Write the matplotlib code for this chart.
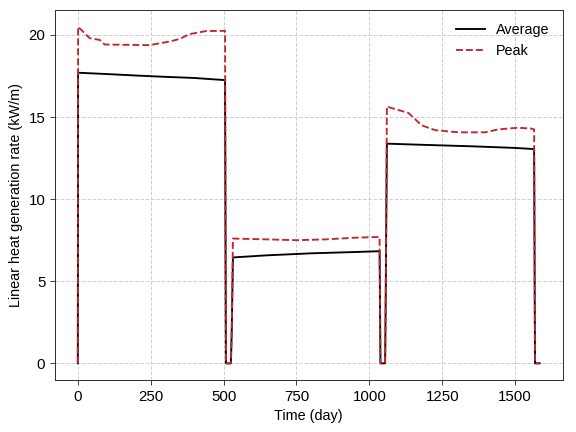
import matplotlib
matplotlib.use("Agg")
import matplotlib.pyplot as plt

plt.rcParams['font.family'] = ['Liberation Sans', 'DejaVu Sans']

# Average linear heat generation rate (kW/m) vs time (day)
avg_days = [0, 1, 100, 200, 300, 400, 505, 508, 525, 528, 532, 650, 800, 950, 1035,
            1038, 1054, 1056, 1060, 1200, 1350, 1500, 1565, 1568, 1584]
avg_vals = [0, 17.7, 17.62, 17.53, 17.45, 17.38, 17.25, 0, 0, 2.0, 6.45, 6.58, 6.7, 6.78, 6.83,
            0, 0, 4.0, 13.38, 13.3, 13.22, 13.12, 13.05, 0, 0]

# Peak linear heat generation rate (kW/m)
peak_days = [0, 1, 41, 75, 92, 167, 246, 314, 348, 383, 440, 505, 508, 525, 528, 532,
             650, 750, 850, 950, 1035, 1038, 1054, 1056, 1060, 1076, 1134, 1179, 1226,
             1305, 1397, 1442, 1510, 1555, 1565, 1568, 1584]
peak_vals = [0, 20.5, 19.8, 19.7, 19.42, 19.4, 19.38, 19.6, 19.75, 20.05, 20.24, 20.25, 0, 0, 2.0, 7.6,
             7.55, 7.5, 7.55, 7.65, 7.7, 0, 0, 4.0, 15.65, 15.55, 15.25, 14.5, 14.2,
             14.07, 14.07, 14.25, 14.35, 14.3, 14.25, 0, 0]

fig, ax = plt.subplots(figsize=(6.4, 4.8), dpi=90)
ax.plot(avg_days, avg_vals, color='black', linewidth=1.5, label='Average')
ax.plot(peak_days, peak_vals, color='#c1272d', linewidth=1.5, linestyle='--', label='Peak')

ax.set_xlabel('Time (day)', fontsize=11.5)
ax.set_ylabel('Linear heat generation rate (kW/m)', fontsize=11.5)
ax.set_xticks([0, 250, 500, 750, 1000, 1250, 1500])
ax.set_yticks([0, 5, 10, 15, 20])
ax.tick_params(labelsize=12, direction='out', length=4, color='#444444')
ax.grid(True, linestyle='--', color='#d0d0d0', linewidth=0.8)
ax.set_axisbelow(True)
for s in ax.spines.values():
    s.set_color('#333333')
ax.legend(loc='upper right', frameon=False, fontsize=11.5)

plt.subplots_adjust(left=0.095, right=0.977, top=0.977, bottom=0.12)
plt.savefig('out.png')
